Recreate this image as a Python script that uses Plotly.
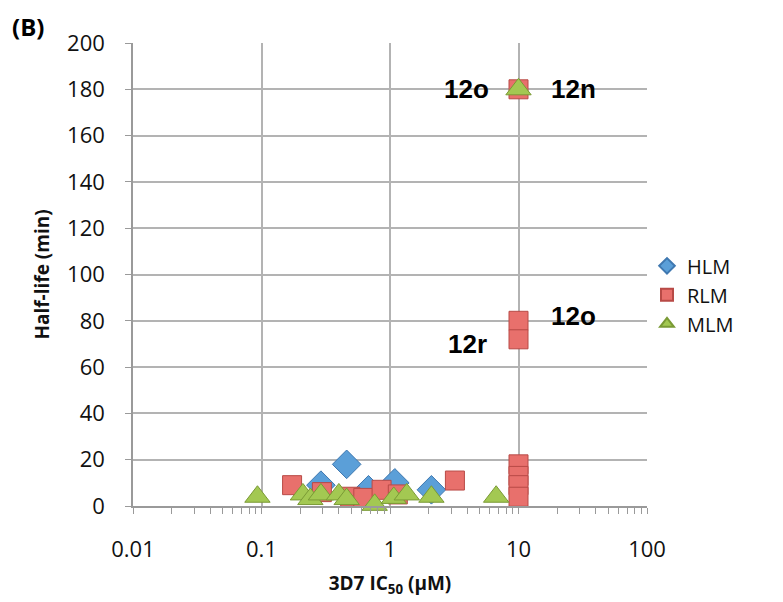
import math
import plotly.graph_objects as go

# HLM (human liver microsomes)
hlm_x = [0.46, 0.29, 1.09, 2.1, 0.68]
hlm_y = [18, 9, 10, 7, 7]
# RLM (rat liver microsomes)
rlm_x = [0.173, 0.295, 0.49, 0.62, 0.86, 1.15, 3.2, 10, 10, 10, 10, 10, 10, 10]
rlm_y = [9, 6, 4, 3.5, 7, 5, 11, 18, 13, 9, 4, 80, 72, 180]
# MLM (mouse liver microsomes)
mlm_x = [0.093, 0.21, 0.24, 0.29, 0.40, 0.46, 0.76, 1.07, 1.35, 2.1, 6.7, 10]
mlm_y = [4, 5, 3, 5, 5, 3, 0.5, 3.5, 5, 4, 4, 180]

x_ticks = [0.01, 0.1, 1, 10, 100]
x_labels = ["0.01", "0.1", "1", "10", "100"]
y_ticks = list(range(0, 201, 20))
x_minor = [m * d for d in (0.01, 0.1, 1, 10) for m in range(2, 10)]

labels_x = [10, 10, 10, 10]
labels_y = [180, 180, 82, 70]
labels_text = ["12o", "12n", "12o", "12r"]
labels_shift = [-52, 55, 55, -51]

fig = go.Figure()
fig.add_trace(go.Scatter(
    x=hlm_x, y=hlm_y, mode="markers", name="HLM", cliponaxis=False,
    marker=dict(symbol="diamond", size=22, color="#5b9fd8",
                line=dict(color="#3f78b0", width=1))))
fig.add_trace(go.Scatter(
    x=rlm_x, y=rlm_y, mode="markers", name="RLM", cliponaxis=False,
    marker=dict(symbol="square", size=19, color="#e8706c",
                line=dict(color="#b84a46", width=1))))
fig.add_trace(go.Scatter(
    x=mlm_x, y=mlm_y, mode="markers", name="MLM", cliponaxis=False,
    marker=dict(symbol="triangle-up", size=22, color="#a3c852",
                line=dict(color="#7a9a35", width=1))))

for lx, ly, lt, dx in zip(labels_x, labels_y, labels_text, labels_shift):
    fig.add_annotation(x=math.log10(lx), y=ly, xref="x", yref="y", text="<b>%s</b>" % lt,
                       showarrow=False, xshift=dx,
                       font=dict(family="Liberation Sans, Arial", size=26, color="black"))

fig.add_annotation(x=-0.239, y=1.035, xref="paper", yref="paper", text="<b>(B)</b>",
                   showarrow=False, xanchor="left", yanchor="middle",
                   font=dict(family="Open Sans", size=24, color="black"))

fig.update_layout(
    width=783, height=602,
    margin=dict(l=125, r=144, t=35, b=104),
    paper_bgcolor="white", plot_bgcolor="white",
    font=dict(family="Open Sans", color="#111"),
    legend=dict(x=1.0, y=0.456, xanchor="left", yanchor="middle",
                font=dict(size=20, color="#111"), itemsizing="constant",
                itemwidth=30, tracegroupgap=0),
    showlegend=True,
)
fig.update_xaxes(
    type="log", range=[-2, 2], tickvals=x_ticks, ticktext=x_labels,
    showgrid=True, gridcolor="#b3b3b3", gridwidth=1.5,
    showline=True, linecolor="#9a9a9a", linewidth=1.5,
    ticks="outside", ticklen=6, tickcolor="#9a9a9a", ticklabelstandoff=17,
    minor=dict(tickmode="array", tickvals=x_minor, ticks="outside", ticklen=6,
               tickcolor="#9a9a9a", showgrid=False),
    tickfont=dict(size=22, color="#111"),
    title=dict(text="<b>3D7 IC<sub>50</sub> (μM)</b>", font=dict(size=19, color="#111"), standoff=15),
    zeroline=False,
)
fig.update_yaxes(
    range=[0, 200], tickvals=y_ticks,
    showgrid=True, gridcolor="#b3b3b3", gridwidth=1.5,
    showline=True, linecolor="#9a9a9a", linewidth=1.5,
    ticks="outside", ticklen=6, tickcolor="#9a9a9a", ticklabelstandoff=16,
    tickfont=dict(size=22, color="#111"),
    title=dict(text="<b>Half-life (min)</b>", font=dict(size=19, color="#111"), standoff=12),
    zeroline=False,
)

fig.write_html("out.html")
